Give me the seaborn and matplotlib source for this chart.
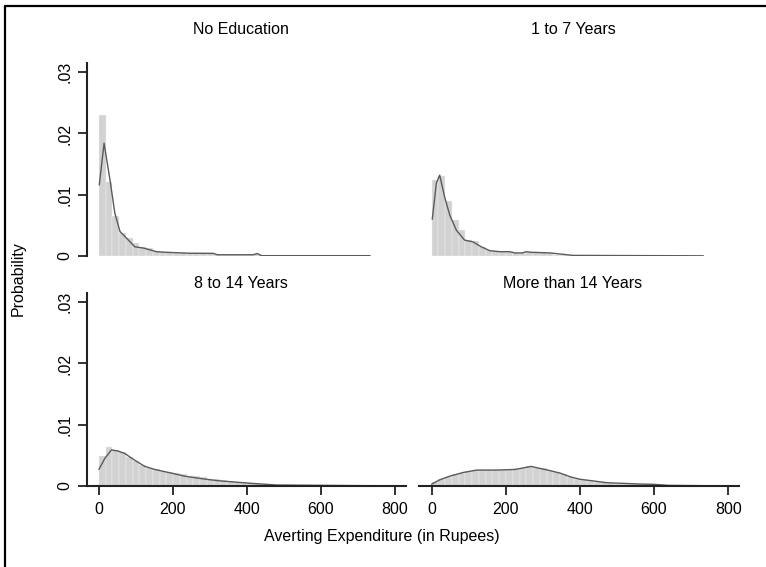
import numpy as np
import pandas as pd
import matplotlib
matplotlib.use("Agg")
import matplotlib.pyplot as plt
import seaborn as sns
from matplotlib.lines import Line2D

# Histogram bins (Rupees): 40 equal bins from 0 to 730
bin_lo, bin_hi, n_bins = 0, 730, 40
bin_width = (bin_hi - bin_lo) / n_bins
bin_centers = bin_lo + bin_width * (np.arange(n_bins) + 0.5)

panel_titles = ["No Education", "1 to 7 Years", "8 to 14 Years", "More than 14 Years"]

# Bar heights (probability density per Rupee) for each education group
hist_none = [0.0230, 0.0120, 0.0065, 0.0038, 0.0030, 0.0022, 0.0014, 0.0013, 0.0008, 0.0007,
             0.0007, 0.0005, 0.0005, 0.0005, 0.0005, 0.0005, 0.0005, 0.0003, 0.0002, 0.0002,
             0.0002, 0.0002, 0.0002, 0.0003, 0.0001, 0.0001, 0.0001, 0.0001, 0.0001, 0.0001,
             0.0001, 0.0001, 0.0001, 0.0001, 0.0001, 0.0001, 0.0001, 0.0001, 0.0001, 0.0001]
hist_1to7 = [0.0124, 0.0130, 0.0089, 0.0059, 0.0042, 0.0026, 0.0024, 0.0015, 0.0010, 0.0008,
             0.0007, 0.0007, 0.0005, 0.0005, 0.0007, 0.0006, 0.0006, 0.0005, 0.0002, 0.0002,
             0.0002, 0.0001, 0.00005, 0.00005, 0.00005, 0.00005, 0.00005, 0.00005, 0.00005, 0.00005,
             0.00005, 0.00005, 0.00005, 0.00005, 0.00005, 0.00005, 0.00005, 0.00005, 0.00005, 0.00005]
hist_8to14 = [0.0049, 0.0064, 0.0058, 0.0056, 0.0048, 0.0040, 0.0034, 0.0030, 0.0027, 0.0025,
              0.0023, 0.0021, 0.0019, 0.0017, 0.0016, 0.0014, 0.0012, 0.0011, 0.0010, 0.0008,
              0.0007, 0.0006, 0.0005, 0.0005, 0.0004, 0.0003, 0.0002, 0.0001, 0.0001, 0.00005,
              0.00005, 0.00005, 0.00005, 0.00005, 0.00005, 0.00005, 0.00005, 0.00005, 0.00005, 0.00005]
hist_over14 = [0.0006, 0.0011, 0.0015, 0.0019, 0.0022, 0.0024, 0.0026, 0.0026, 0.0026, 0.0026,
               0.0026, 0.0026, 0.0028, 0.0029, 0.0032, 0.0030, 0.0029, 0.0025, 0.0023, 0.0019,
               0.0015, 0.0012, 0.0010, 0.0008, 0.0007, 0.0006, 0.0005, 0.0004, 0.0004, 0.0003,
               0.0003, 0.0003, 0.0003, 0.0001, 0.0001, 0.0001, 0.0001, 0.0001, 0.0001, 0.0001]

# Kernel density curves (x in Rupees, y density)
kde_none_x = [1, 14, 30, 43, 57, 75, 97, 120, 156, 183, 246, 309, 320, 417, 428, 440, 733]
kde_none_y = [0.0116, 0.0184, 0.0124, 0.0070, 0.0040, 0.0029, 0.0015, 0.0013, 0.0007, 0.0006,
              0.00045, 0.00043, 0.0002, 0.0002, 0.0004, 0.00005, 0.00005]
kde_1to7_x = [2, 13, 22, 35, 49, 67, 89, 112, 134, 157, 184, 211, 225, 245, 255, 270, 320, 381, 733]
kde_1to7_y = [0.0060, 0.0119, 0.0132, 0.0097, 0.0067, 0.0042, 0.0026, 0.0023, 0.0015, 0.00087,
              0.0007, 0.0007, 0.0005, 0.0005, 0.0007, 0.0006, 0.0005, 0.0001, 0.00003]
kde_8to14_x = [0, 16, 34, 52, 70, 97, 124, 151, 196, 232, 277, 322, 377, 413, 480, 733]
kde_8to14_y = [0.0027, 0.0045, 0.0059, 0.0057, 0.0053, 0.0042, 0.0032, 0.0027, 0.0021, 0.0016,
               0.0012, 0.00086, 0.0006, 0.00043, 0.00016, 0.00005]
kde_over14_x = [0, 22, 49, 85, 122, 175, 225, 252, 268, 290, 320, 347, 374, 400, 432, 472, 518,
                562, 600, 640, 733]
kde_over14_y = [0.0003, 0.0010, 0.0016, 0.0022, 0.0026, 0.0026, 0.0027, 0.0030, 0.0032, 0.0029,
                0.0025, 0.0021, 0.0015, 0.0011, 0.00086, 0.00054, 0.00043, 0.00032, 0.00027,
                0.0001, 0.00005]

x_ticks = [0, 200, 400, 600, 800]
y_ticks = [0, 0.01, 0.02, 0.03]
y_tick_labels = ["0", ".01", ".02", ".03"]

sns.set_style("ticks")
plt.rcParams["font.family"] = ["Liberation Sans", "DejaVu Sans"]
plt.rcParams["text.color"] = "black"

W, H = 766, 567
FS = 11.5
fig = plt.figure(figsize=(W / 100, H / 100), dpi=100)
fig.patch.set_facecolor("white")

# Frame edges along the left and top of the graph region
fig.add_artist(Line2D([5 / W, 5 / W], [0, 1 - 6 / H], transform=fig.transFigure,
                      color="black", linewidth=1.6))
fig.add_artist(Line2D([5 / W, 1], [1 - 6 / H, 1 - 6 / H], transform=fig.transFigure,
                      color="black", linewidth=1.6))


def px_box(left, top, right, bottom):
    return [left / W, 1 - bottom / H, (right - left) / W, (bottom - top) / H]


boxes = [px_box(86.7, 63, 406, 256), px_box(419.3, 63, 739.3, 256),
         px_box(86.7, 293, 406, 486), px_box(419.3, 293, 739.3, 486)]
hists = [hist_none, hist_1to7, hist_8to14, hist_over14]
kdes = [(kde_none_x, kde_none_y), (kde_1to7_x, kde_1to7_y),
        (kde_8to14_x, kde_8to14_y), (kde_over14_x, kde_over14_y)]
title_pos = [(241, 30), (573, 30), (241, 283), (573, 283)]

bar_color = "#d2d2d2"
line_color = "#5a5a5a"
axis_color = "#222222"

for i in range(4):
    ax = fig.add_axes(boxes[i])
    df = pd.DataFrame({"x": bin_centers, "h": np.asarray(hists[i], dtype=float)})
    sns.histplot(data=df, x="x", weights="h", binwidth=bin_width, binrange=(bin_lo, bin_hi),
                 ax=ax, stat="count", color=bar_color, alpha=1.0, edgecolor="#f2f2f2",
                 linewidth=0.3)
    kx, ky = kdes[i]
    sns.lineplot(x=kx, y=ky, ax=ax, color=line_color, linewidth=1.0, estimator=None, sort=False)
    ax.set_xlim(-33, 830)
    ax.set_ylim(0, 0.0315)
    ax.set_xlabel("")
    ax.set_ylabel("")
    for s in ["top", "right"]:
        ax.spines[s].set_visible(False)
    left_col = i in (0, 2)
    bottom_row = i in (2, 3)
    ax.spines["left"].set_visible(left_col)
    ax.spines["bottom"].set_visible(bottom_row)
    for s in ["left", "bottom"]:
        ax.spines[s].set_linewidth(1.5)
        ax.spines[s].set_color(axis_color)
    ax.tick_params(axis="both", direction="out", length=6.5, width=1.3, color=axis_color,
                   labelsize=FS, labelcolor="black")
    if bottom_row:
        ax.set_xticks(x_ticks)
        ax.set_xticklabels([str(t) for t in x_ticks])
        ax.tick_params(axis="x", pad=5)
    else:
        ax.set_xticks([])
    if left_col:
        ax.set_yticks(y_ticks)
        ax.set_yticklabels(y_tick_labels, rotation=90, va="center")
        ax.tick_params(axis="y", pad=4)
    else:
        ax.set_yticks([])
    ax.patch.set_alpha(0)
    tx, ty = title_pos[i]
    fig.text(tx / W, 1 - ty / H, panel_titles[i], ha="center", va="center", fontsize=FS)

fig.text(382 / W, 1 - 536 / H, "Averting Expenditure (in Rupees)", ha="center", va="center",
         fontsize=FS)
fig.text(18 / W, 1 - 279 / H, "Probability", ha="center", va="center", rotation=90,
         fontsize=FS)

fig.savefig("out.png", dpi=100)
